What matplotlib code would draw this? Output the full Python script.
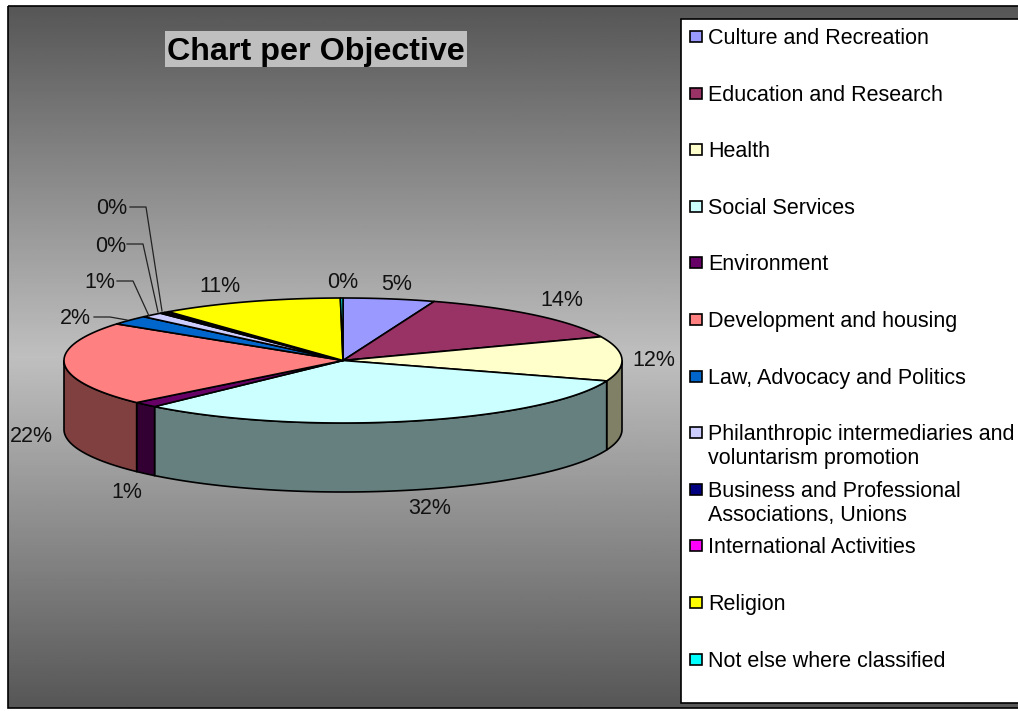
import numpy as np
import matplotlib
matplotlib.use('Agg')
import matplotlib.pyplot as plt
from matplotlib.patches import Polygon, Rectangle

# 데이터
objectives = ["Culture and Recreation", "Education and Research", "Health", "Social Services",
              "Environment", "Development and housing", "Law, Advocacy and Politics",
              "Philanthropic intermediaries and\nvoluntarism promotion",
              "Business and Professional\nAssociations, Unions", "International Activities",
              "Religion", "Not else where classified"]
shares = [5.3, 13.5, 11.5, 31.5, 1.45, 21.7, 2.4, 1.3, 0.3, 0.3, 10.6, 0.15]
colors = ["#9999ff", "#993366", "#ffffcc", "#ccffff", "#660066", "#ff8080",
          "#0066cc", "#ccccff", "#000080", "#ff00ff", "#ffff00", "#00ffff"]

# 배치 (픽셀 좌표)
label_xy = [(397, 284), (562, 300), (654, 361), (430, 509), (127, 493), (31, 436),
            (75, 318), (100, 282), (111, 246), (112, 209), (220, 286), (343, 283)]
leaders = {6: [(94, 317), (110, 317), (127, 320)],
           7: [(117, 281), (133, 281), (149, 316)],
           8: [(127, 244), (143, 244), (158, 312)],
           9: [(130, 207), (146, 207), (162, 311)]}
cx, cy, rx, ry, depth = 343, 360.5, 279, 62.5, 69

plt.rcParams['font.family'] = ['Liberation Sans', 'DejaVu Sans']
fig = plt.figure(figsize=(10.18, 7.11), dpi=100)
ax = fig.add_axes([0, 0, 1, 1])
ax.axis('off')

# 배경 그라데이션
grad = 1 - np.abs(np.linspace(-1, 1, 256))
ax.imshow((0.34 + 0.41 * grad)[:, None], cmap='gray', vmin=0, vmax=1, aspect='auto',
          extent=[8, 1030, 708, 6], zorder=0)
ax.set_xlim(0, 1018)
ax.set_ylim(711, 0)
ax.add_patch(Rectangle((8, 6), 1030, 702, fc='none', ec='black', lw=1.2, zorder=1))

def arc(t0, t1):
    t = np.radians(np.linspace(t0, t1, max(int(abs(t1 - t0) * 2), 2)))
    return np.column_stack([cx + rx * np.sin(t), cy - ry * np.cos(t)])

edges = np.cumsum([0] + shares) / sum(shares) * 360

# 옆면
for i, c in enumerate(colors):
    t0, t1 = max(edges[i], 90), min(edges[i + 1], 270)
    if t1 <= t0:
        continue
    top = arc(t0, t1)
    side = np.vstack([top, (top + [0, depth])[::-1]])
    dark = tuple(0.5 * v for v in matplotlib.colors.to_rgb(c))
    ax.add_patch(Polygon(side, fc=dark, ec='black', lw=1.2, zorder=2))

# 윗면
for i, c in enumerate(colors):
    pts = np.vstack([[cx, cy], arc(edges[i], edges[i + 1])])
    ax.add_patch(Polygon(pts, fc=c, ec='black', lw=1.2, joinstyle='round', zorder=3))

# 퍼센트 라벨
for v, (x, y) in zip(shares, label_xy):
    ax.text(x, y, f"{v:.0f}%", fontsize=15.5, ha='center', va='center', color='#111111', zorder=5)
for pts in leaders.values():
    xs, ys = zip(*pts)
    ax.plot(xs, ys, color='#222222', lw=0.9, zorder=4)

# 제목
ax.add_patch(Rectangle((165, 31), 302, 36, fc='#bfbfbf', ec='none', zorder=4))
ax.text(316, 52, "Chart per Objective", fontsize=23.2, fontweight='bold', ha='center', va='center', zorder=5)

# 범례
ax.add_patch(Rectangle((681, 19), 400, 684, fc='white', ec='black', lw=1.2, zorder=4))
for i, (name, c) in enumerate(zip(objectives, colors)):
    y = 36.5 + 56.6 * i
    ax.add_patch(Rectangle((690, y - 5.5), 12, 11, fc=c, ec='black', lw=1.2, zorder=5))
    ax.text(708, y - 8.5, name, fontsize=15.5, ha='left', va='top', linespacing=1.2, zorder=5)

fig.savefig('out.png', dpi=100)
